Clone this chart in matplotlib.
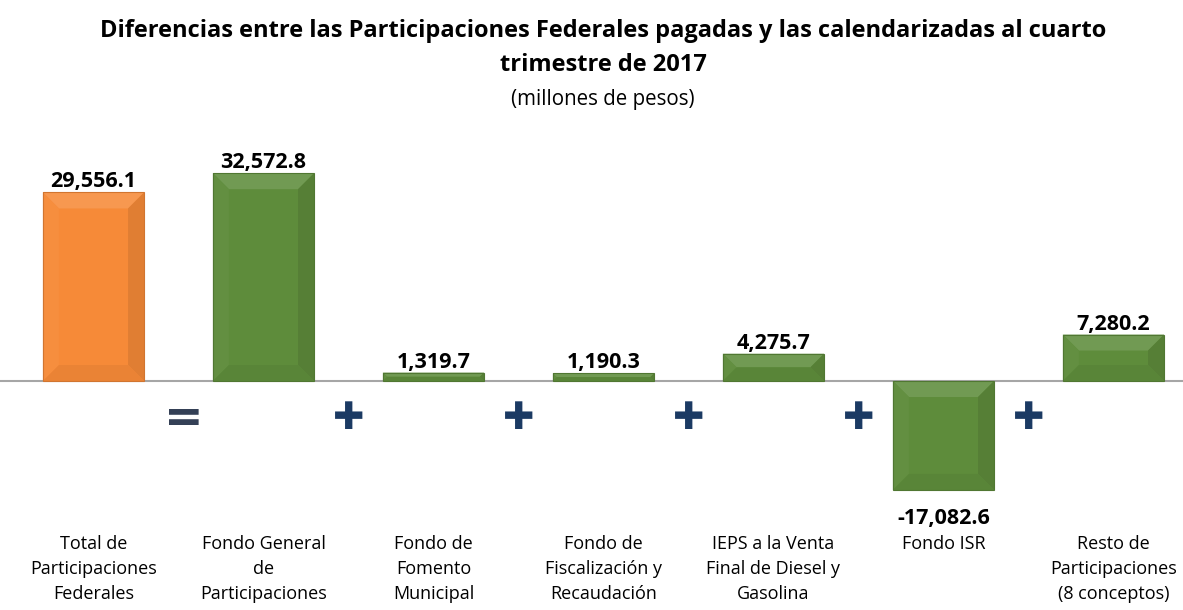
import matplotlib
matplotlib.use("Agg")
import matplotlib.pyplot as plt
import matplotlib.colors as mc
from matplotlib.patches import Polygon
from matplotlib.transforms import blended_transform_factory

categories = ["Total de\nParticipaciones\nFederales",
              "Fondo General\nde\nParticipaciones",
              "Fondo de\nFomento\nMunicipal",
              "Fondo de\nFiscalización y\nRecaudación",
              "IEPS a la Venta\nFinal de Diesel y\nGasolina",
              "Fondo ISR",
              "Resto de\nParticipaciones\n(8 conceptos)"]
values = [29556.1, 32572.8, 1319.7, 1190.3, 4275.7, -17082.6, 7280.2]
operators = ["=", "+", "+", "+", "+", "+"]

title = "Diferencias entre las Participaciones Federales pagadas y las calendarizadas al cuarto\ntrimestre de 2017"
subtitle = "(millones de pesos)"

ORANGE = "#F68A38"
GREEN = "#5E8C3B"

plt.rcParams['font.family'] = ['Open Sans', 'DejaVu Sans']

fig = plt.figure(figsize=(11.83, 6.10), dpi=100)
ax = fig.add_axes([0, 110/610, 1, 370/610])
ax.set_xlim(-0.55, 6.409)
ax.set_ylim(-18652, 39342)
ax.axis('off')

x = list(range(len(values)))
colors = [ORANGE] + [GREEN] * (len(values) - 1)
bars = ax.bar(x, values, width=0.595, color=colors, edgecolor='none', zorder=2)

def shade(c, f):
    r, g, b = mc.to_rgb(c)
    if f > 0:
        return (r + (1 - r) * f, g + (1 - g) * f, b + (1 - b) * f)
    return (r * (1 + f), g * (1 + f), b * (1 + f))

# bevel effect derived from bar geometry
fig.canvas.draw()
to_disp = ax.transData
to_data = ax.transData.inverted()
for b, c in zip(bars, colors):
    x0, y0 = b.get_x(), b.get_y()
    w, h = b.get_width(), b.get_height()
    (px0, py0) = to_disp.transform((x0, min(y0, y0 + h)))
    (px1, py1) = to_disp.transform((x0 + w, max(y0, y0 + h)))
    inset = min(16, (py1 - py0) / 2, (px1 - px0) / 2)
    ix0, iy0 = px0 + inset, py0 + inset
    ix1, iy1 = px1 - inset, py1 - inset
    outer = [(px0, py0), (px1, py0), (px1, py1), (px0, py1)]
    inner = [(ix0, iy0), (ix1, iy0), (ix1, iy1), (ix0, iy1)]
    faces = [
        ([outer[3], outer[2], inner[2], inner[3]], shade(c, 0.12)),   # top
        ([outer[0], outer[3], inner[3], inner[0]], shade(c, 0.03)),   # left
        ([outer[1], outer[2], inner[2], inner[1]], shade(c, -0.09)),  # right
        ([outer[0], outer[1], inner[1], inner[0]], shade(c, -0.05)),  # bottom
    ]
    for pts, fc in faces:
        dpts = to_data.transform(pts)
        ax.add_patch(Polygon(dpts, closed=True, facecolor=fc, edgecolor='none', zorder=3))
    dpts = to_data.transform(outer)
    ax.add_patch(Polygon(dpts, closed=True, facecolor='none', edgecolor=shade(c, -0.15),
                         linewidth=0.8, zorder=4))

ax.axhline(0, color='#A6A6A6', linewidth=1.5, zorder=1)

# value labels
for xi, v in zip(x, values):
    lbl = f"{v:,.1f}"
    if v >= 0:
        ax.annotate(lbl, (xi, v), xytext=(0, 0), textcoords='offset points',
                    ha='center', va='bottom', fontsize=15.5, fontweight='bold', color='black')
    else:
        ax.annotate(lbl, (xi, v), xytext=(0, -13), textcoords='offset points',
                    ha='center', va='top', fontsize=15.5, fontweight='bold', color='black')

# category labels
tr = blended_transform_factory(ax.transData, ax.transAxes)
for xi, cat in zip(x, categories):
    ax.text(xi, -35/370, cat, transform=tr, ha='center', va='top',
            fontsize=13, linespacing=1.5, color='black')

# operators between bars
for i, op in enumerate(operators):
    xm = i + 0.5
    if op == "=":
        ax.text(xm + 0.03, -6000, "=", ha='center', va='center', fontsize=34,
                fontweight='heavy', color='#344056', family='DejaVu Sans')
    else:
        ax.text(xm, -6000, "\u271a", ha='center', va='center', fontsize=27,
                color='#1B3A63', family='DejaVu Sans')

fig.text(603/1183, 1 - 48/610, title, ha='center', va='center', fontsize=17,
         fontweight='bold', linespacing=1.6)
fig.text(603/1183, 1 - 99/610, subtitle, ha='center', va='center', fontsize=14.8)

fig.savefig("out.png", dpi=100)
